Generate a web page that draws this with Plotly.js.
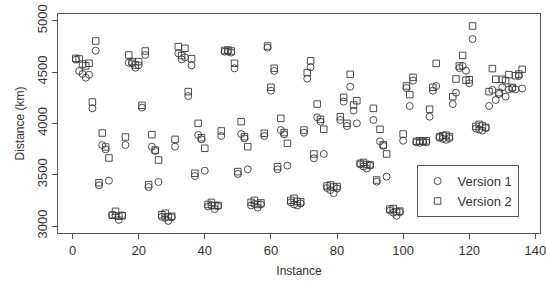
<!DOCTYPE html>
<html>
<head>
<meta charset="utf-8">
<script src="https://cdn.plot.ly/plotly-3.0.1.min.js"></script>
<style>html,body{margin:0;padding:0;background:#fff;}#chart{width:546px;height:284px;}</style>
</head>
<body>
<div id="chart"></div>
<script>
const version1 = [
  4620, 4510, 4481, 4445, 4474, 4146, 4708, 3396, 3789, 3747,
  3442, 3110, 3100, 3060, 3105, 3789, 4591, 4585, 4542, 4565,
  4153, 4666, 3380, 3773, 3731, 3429, 3090, 3080, 3050, 3085,
  3773, 4682, 4623, 4643, 4266, 4565, 3487, 3887, 3844, 3539,
  3190, 3200, 3165, 3195, 3877, 4698, 4698, 4690, 4536, 3507,
  3896, 3854, 3552, 3200, 3215, 3180, 3210, 3877, 4737, 4318,
  4510, 3552, 3935, 3893, 3588, 3230, 3210, 3200, 3220, 3909,
  4435, 4546, 3660, 4059, 4016, 3702, 3370, 3350, 3320, 3365,
  4033, 4211, 3974, 4357, 4124, 4000, 3600, 3580, 3560, 3590,
  4033, 3432, 3825, 3780, 3481, 3150, 3130, 3100, 3135, 3831,
  4344, 4169, 4416, 3815, 3810, 3820, 3815, 4065, 4318, 4364,
  3860, 3850, 3840, 3855, 4188, 4299, 4539, 4559, 4513, 4390,
  4821, 3950, 3940, 3930, 3955, 4169, 4325, 4227, 4286, 4351,
  4260, 4331, 4340, 4331, 4461, 4340
];
const version2 = [
  4633, 4627, 4578, 4560, 4585, 4208, 4802, 3422, 3906, 3770,
  3663, 3105, 3143, 3095, 3100, 3867, 4666, 4601, 4568, 4601,
  4176, 4705, 3403, 3890, 3740, 3643, 3110, 3124, 3090, 3095,
  3844, 4747, 4660, 4731, 4309, 4630, 3514, 4000, 3860, 3757,
  3210, 3230, 3200, 3200, 3926, 4710, 4714, 4705, 4585, 3530,
  4016, 3870, 3773, 3230, 3250, 3210, 3225, 3903, 4753, 4351,
  4536, 3578, 4049, 3910, 3805, 3250, 3270, 3240, 3235, 3935,
  4494, 4610, 3702, 4188, 4039, 3942, 3390, 3400, 3380, 3385,
  4065, 4253, 4000, 4477, 4179, 4221, 3610, 3620, 3600, 3595,
  4146, 3448, 3942, 3790, 3702, 3165, 3170, 3140, 3145, 3896,
  4364, 4280, 4448, 3825, 3830, 3825, 3830, 4137, 4351, 4584,
  3870, 3880, 3885, 3870, 4260, 4432, 4559, 4662, 4420, 4425,
  4948, 3970, 3990, 3975, 3960, 4309, 4533, 4429, 4300, 4429,
  4416, 4474, 4350, 4464, 4480, 4526
];
const instance = version1.map((_, i) => i + 1);
const seriesNames = ["Version 1", "Version 2"];
const xTicks = [0, 20, 40, 60, 80, 100, 120, 140];
const yTicks = [3000, 3500, 4000, 4500, 5000];

const ink = '#3a3a3a';
const font = {family: 'Liberation Sans, Arial, sans-serif', size: 12, color: '#333'};
const tickFont = {family: 'Liberation Sans, Arial, sans-serif', size: 13, color: '#333'};

const traces = [
  {x: instance, y: version1, name: seriesNames[0], type: 'scatter', mode: 'markers',
   marker: {symbol: 'circle-open', size: 7, color: ink, line: {width: 0.9, color: ink}}},
  {x: instance, y: version2, name: seriesNames[1], type: 'scatter', mode: 'markers',
   marker: {symbol: 'square-open', size: 6.5, color: ink, line: {width: 0.9, color: ink}}}
];

const axisCommon = {
  showgrid: false, zeroline: false, showline: true, mirror: true,
  linecolor: '#555', linewidth: 1, ticks: 'outside', ticklen: 5,
  tickcolor: '#555', tickwidth: 1, tickfont: tickFont,
  ticklabeloverflow: 'allow'
};

const layout = {
  width: 546, height: 284,
  margin: {l: 58, r: 6, t: 14, b: 51},
  paper_bgcolor: '#fff', plot_bgcolor: '#fff',
  font: font,
  showlegend: true,
  legend: {x: 0.744, y: 0.31, xanchor: 'left', yanchor: 'top',
           bordercolor: '#555', borderwidth: 1, bgcolor: '#fff',
           font: tickFont, itemsizing: 'trace'},
  xaxis: Object.assign({}, axisCommon, {
    range: [-4.4, 141.4], tickvals: xTicks, ticktext: xTicks.map(String),
    title: {text: 'Instance', font: font, standoff: 10}
  }),
  yaxis: Object.assign({}, axisCommon, {
    range: [2932, 5065], tickvals: yTicks, ticktext: yTicks.map(String),
    tickangle: -90,
    title: {text: 'Distance (km)', font: font, standoff: 7}
  })
};

Plotly.newPlot('chart', traces, layout, {displayModeBar: false, staticPlot: true});
</script>
</body>
</html>
